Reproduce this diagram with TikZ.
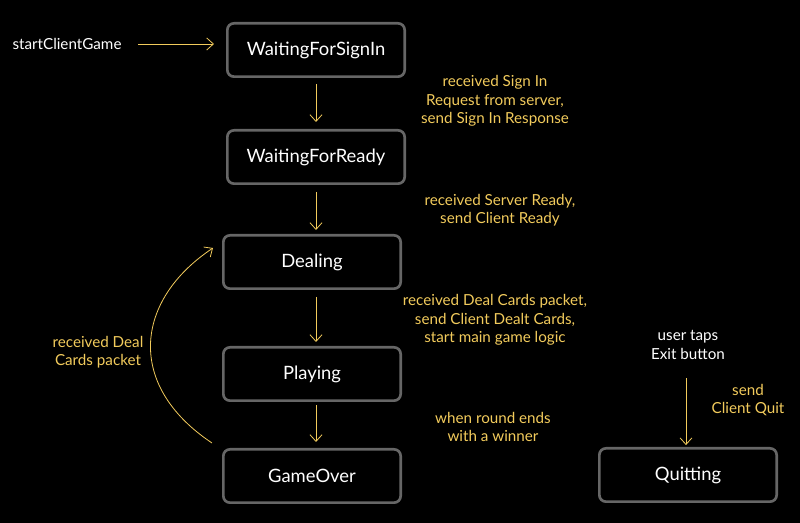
\documentclass[tikz,border=0pt]{standalone}
\usepackage{fontspec}
\setmainfont{Lato}
\usetikzlibrary{arrows.meta}
\definecolor{gold}{HTML}{F2CB5C}
\definecolor{boxgray}{HTML}{666666}
\tikzset{
every state/.style={ % the rounded state boxes
draw=boxgray, line width=2pt, fill=black, rounded corners=5pt,
minimum width=133pt, minimum height=40pt, text=white, font=\fontsize{13.8}{16}\selectfont},
note/.style={text=gold, align=center, font=\fontsize{11.4}{13.8}\selectfont},
plain/.style={text=white, align=center, font=\fontsize{11.4}{13.8}\selectfont},
trans/.style={draw=gold, semithick, -{Straight Barb[length=5pt,width=9pt]}}}
\begin{document}
\begin{tikzpicture}[x=0.75pt,y=-0.75pt]
\fill[black] (0,0) rectangle (800,523);
\node[every state] (signin) at (316,50) {WaitingForSignIn};
\node[every state] (ready) at (316,157) {WaitingForReady};
\node[every state] (deal) at (312,262) {Dealing};
\node[every state] (play) at (312,374) {Playing};
\node[every state] (over) at (312,476) {GameOver};
\node[every state] (quit) at (688,475) {Quitting};
\node[plain] (start) at (67,44) {startClientGame};
\node[plain] (taps) at (688,345) {user taps\\Exit button};
\node[note] at (495,101) {received Sign In\\Request from server,\\send Sign In Response};
\node[note] at (500,210) {received Server Ready,\\send Client Ready};
\node[note] at (495,320) {received Deal Cards packet,\\send Client Dealt Cards,\\start main game logic};
\node[note] at (493,427) {when round ends\\with a winner};
\node[note] at (748,400) {send\\Client Quit};
\node[note] at (98,352) {received Deal\\Cards packet};
\draw[trans, shorten <=9pt, shorten >=9pt] (start.east) -- (start.east -| signin.west);
\draw[trans] (signin.south) ++(0,6) -- ++(0,38);
\draw[trans] (ready.south) ++(0,7) -- ++(0,38);
\draw[trans] (deal.south) ++(4,7) -- ++(0,45);
\draw[trans] (play.south) ++(4,3) -- ++(0,37);
\draw[trans] (taps.south) ++(-2,14) -- ++(0,67);
\draw[trans] (over.north west) ++(-10,-5) .. controls (125,385) and (135,300) .. (213,248);
\end{tikzpicture}
\end{document}
